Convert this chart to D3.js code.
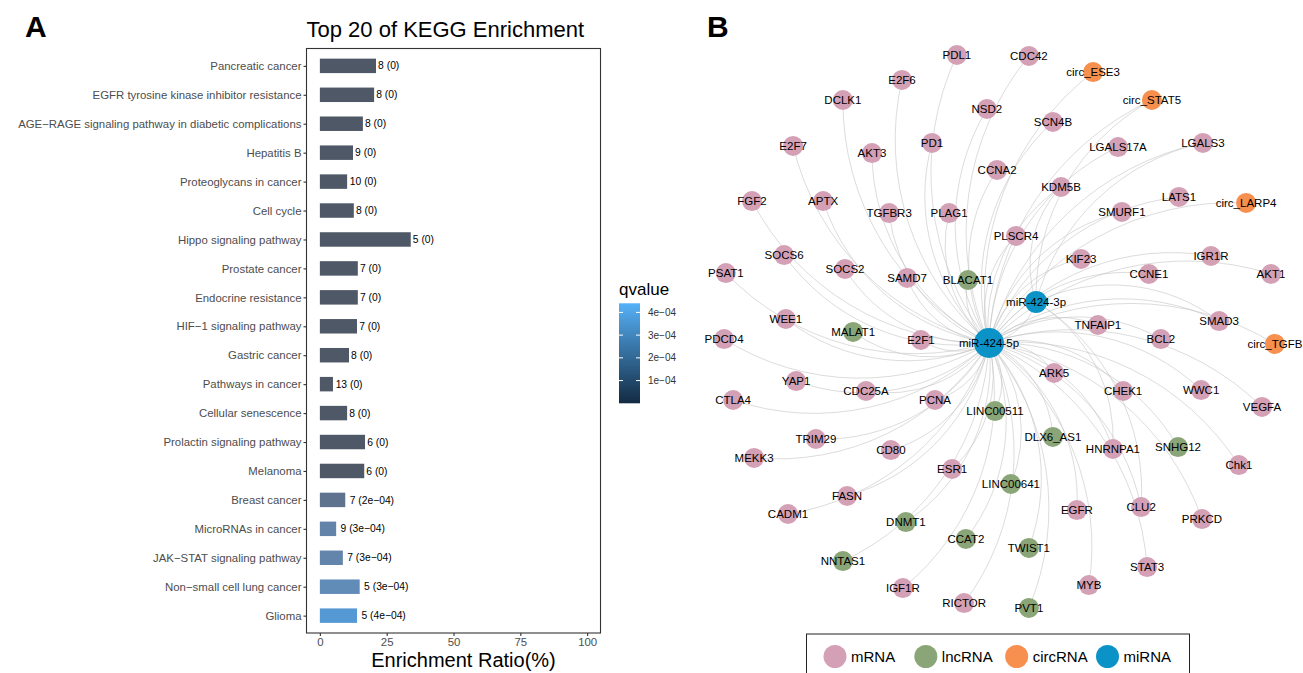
<!DOCTYPE html>
<html lang="en">
<head>
<meta charset="utf-8">
<style>
    body { margin: 0; background: #fff; }
    svg { font-family: "Liberation Sans", Arial, Helvetica, sans-serif; }
</style>
<script src="https://cdn.jsdelivr.net/npm/d3@7/dist/d3.min.js"></script>
</head>
<body>
<svg id="chart" width="1303" height="673"></svg>
<script>
// ---- panel A data ----
var pathways = ["Pancreatic cancer", "EGFR tyrosine kinase inhibitor resistance",
    "AGE\u2212RAGE signaling pathway in diabetic complications", "Hepatitis B",
    "Proteoglycans in cancer", "Cell cycle", "Hippo signaling pathway", "Prostate cancer",
    "Endocrine resistance", "HIF\u22121 signaling pathway", "Gastric cancer", "Pathways in cancer",
    "Cellular senescence", "Prolactin signaling pathway", "Melanoma", "Breast cancer",
    "MicroRNAs in cancer", "JAK\u2212STAT signaling pathway", "Non\u2212small cell lung cancer", "Glioma"];
var ratio = [21.0, 20.3, 16.1, 12.4, 10.2, 12.7, 34.0, 14.2, 14.2, 13.9,
             10.9, 4.9, 10.2, 16.9, 16.6, 9.5, 6.1, 8.6, 14.9, 13.9];
var geneCount = [8, 8, 8, 9, 10, 8, 5, 7, 7, 7, 8, 13, 8, 6, 6, 7, 9, 7, 5, 5];
var qvalue = [0, 0, 0, 0, 0, 0, 0, 0, 0, 0, 0, 0, 0, 0, 0,
              2.2e-4, 2.8e-4, 2.9e-4, 3.3e-4, 4.4e-4];
var xTicks = [0, 25, 50, 75, 100];
var qTicks = [1e-4, 2e-4, 3e-4, 4e-4];

// ---- panel B data (layout coordinates, hub at origin) ----
var nodes = [
    ["PDL1", "mRNA", -0.107, 0.960], ["CDC42", "mRNA", 0.133, 0.957],
    ["circ_ESE3", "circRNA", 0.347, 0.903], ["circ_STAT5", "circRNA", 0.543, 0.810],
    ["E2F6", "mRNA", -0.290, 0.877], ["DCLK1", "mRNA", -0.487, 0.810],
    ["NSD2", "mRNA", -0.007, 0.780], ["SCN4B", "mRNA", 0.213, 0.737],
    ["LGALS17A", "mRNA", 0.430, 0.653], ["LGALS3", "mRNA", 0.713, 0.667],
    ["E2F7", "mRNA", -0.653, 0.657], ["AKT3", "mRNA", -0.390, 0.633],
    ["PD1", "mRNA", -0.190, 0.667], ["CCNA2", "mRNA", 0.027, 0.577],
    ["KDM5B", "mRNA", 0.240, 0.520], ["LATS1", "mRNA", 0.633, 0.487],
    ["circ_LARP4", "circRNA", 0.857, 0.467], ["SMURF1", "mRNA", 0.443, 0.437],
    ["FGF2", "mRNA", -0.790, 0.473], ["APTX", "mRNA", -0.553, 0.473],
    ["TGFBR3", "mRNA", -0.333, 0.433], ["PLAG1", "mRNA", -0.133, 0.433],
    ["PLSCR4", "mRNA", 0.090, 0.357], ["KIF23", "mRNA", 0.307, 0.280],
    ["IGR1R", "mRNA", 0.740, 0.290], ["CCNE1", "mRNA", 0.533, 0.230],
    ["AKT1", "mRNA", 0.940, 0.230], ["SOCS6", "mRNA", -0.683, 0.293],
    ["SOCS2", "mRNA", -0.480, 0.247], ["PSAT1", "mRNA", -0.877, 0.233],
    ["SAMD7", "mRNA", -0.273, 0.217], ["BLACAT1", "lncRNA", -0.070, 0.210],
    ["WEE1", "mRNA", -0.677, 0.080], ["SMAD3", "mRNA", 0.767, 0.073],
    ["MALAT1", "lncRNA", -0.453, 0.037], ["TNFAIP1", "mRNA", 0.363, 0.060],
    ["PDCD4", "mRNA", -0.883, 0.013], ["E2F1", "mRNA", -0.227, 0.010],
    ["BCL2", "mRNA", 0.573, 0.013], ["circ_TGFB", "circRNA", 0.953, -0.003],
    ["ARK5", "mRNA", 0.217, -0.100], ["YAP1", "mRNA", -0.643, -0.127],
    ["CDC25A", "mRNA", -0.410, -0.160], ["CHEK1", "mRNA", 0.447, -0.160],
    ["WWC1", "mRNA", 0.707, -0.157], ["CTLA4", "mRNA", -0.853, -0.190],
    ["PCNA", "mRNA", -0.180, -0.190], ["VEGFA", "mRNA", 0.910, -0.213],
    ["LINC00511", "lncRNA", 0.020, -0.227], ["DLX6_AS1", "lncRNA", 0.213, -0.313],
    ["TRIM29", "mRNA", -0.577, -0.320], ["SNHG12", "lncRNA", 0.630, -0.347],
    ["HNRNPA1", "mRNA", 0.413, -0.353], ["CD80", "mRNA", -0.327, -0.357],
    ["MEKK3", "mRNA", -0.783, -0.383], ["Chk1", "mRNA", 0.833, -0.407],
    ["ESR1", "mRNA", -0.123, -0.420], ["LINC00641", "lncRNA", 0.073, -0.470],
    ["FASN", "mRNA", -0.473, -0.510], ["EGFR", "mRNA", 0.293, -0.557],
    ["CLU2", "mRNA", 0.507, -0.547], ["CADM1", "mRNA", -0.670, -0.570],
    ["PRKCD", "mRNA", 0.710, -0.587], ["DNMT1", "lncRNA", -0.277, -0.597],
    ["CCAT2", "lncRNA", -0.077, -0.653], ["TWIST1", "lncRNA", 0.133, -0.683],
    ["NNTAS1", "lncRNA", -0.487, -0.727], ["STAT3", "mRNA", 0.527, -0.747],
    ["IGF1R", "mRNA", -0.287, -0.817], ["MYB", "mRNA", 0.333, -0.807],
    ["RICTOR", "mRNA", -0.083, -0.867], ["PVT1", "lncRNA", 0.133, -0.883],
    ["miR-424-3p", "miRNA", 0.157, 0.137], ["miR-424-5p", "miRNA", 0.000, 0.000]
];
var targets3p = ["KDM5B", "SMAD3", "HNRNPA1", "CLU2", "LGALS3", "circ_STAT5", "miR-424-5p"];
var typeNames = ["mRNA", "lncRNA", "circRNA", "miRNA"];
var typeColors = ["#d4a0b6", "#8aa577", "#f78f4f", "#0b93c8"];

var svg = d3.select("#chart");

// ================= Panel A =================
var panel = {left: 306.5, right: 600.5, top: 48.5, bottom: 633};
var x = d3.scaleLinear().domain([-5, 105]).range([panel.left, panel.right]);
var y = d3.scalePoint().domain(pathways).range([panel.top, panel.bottom]).padding(0.6);
var barH = y.step() * 0.5;
var qMax = d3.max(qvalue);
var legendColor = d3.scaleLinear().domain([0, qMax]).range(["#132b43", "#56b1f7"]);
var barColor = d3.scaleLinear().domain([0, 2.2e-4, 3e-4, qMax])
    .range(["#4f5866", "#5f738e", "#6488b0", "#5599d4"]);

function fmtQ(q) {
    if (q === 0) return "0";
    var p = q.toExponential(0).split("e");
    var e = Math.abs(+p[1]);
    return p[0] + "e\u2212" + (e < 10 ? "0" + e : e);
}

var gA = svg.append("g");

svg.append("text").attr("x", 25).attr("y", 37)
   .attr("font-size", 30).attr("font-weight", "bold").text("A");
gA.append("text").attr("x", panel.left).attr("y", 37)
  .attr("font-size", 22).text("Top 20 of KEGG Enrichment");

gA.selectAll(".bar")
  .data(pathways)
  .enter().append("rect")
  .attr("class", "bar")
  .attr("x", x(0))
  .attr("y", function(d) { return y(d) - barH / 2; })
  .attr("width", function(d, i) { return x(ratio[i]) - x(0); })
  .attr("height", barH)
  .attr("fill", function(d, i) { return barColor(qvalue[i]); });

gA.selectAll(".blab")
  .data(pathways)
  .enter().append("text")
  .attr("class", "blab")
  .attr("font-size", 10.3)
  .attr("dy", "0.35em")
  .attr("y", function(d) { return y(d); })
  .text(function(d, i) { return geneCount[i] + " (" + fmtQ(qvalue[i]) + ")"; })
  .attr("x", function(d, i) { return x(ratio[i]) + 0.1 * this.getComputedTextLength(); });

// axes
var yAxis = gA.append("g")
  .attr("transform", "translate(" + panel.left + ",0)")
  .call(d3.axisLeft(y).tickSize(3).tickPadding(2));
var xAxis = gA.append("g")
  .attr("transform", "translate(0," + panel.bottom + ")")
  .call(d3.axisBottom(x).tickValues(xTicks).tickSize(3).tickPadding(2));
[yAxis, xAxis].forEach(function(ax) {
    ax.select(".domain").remove();
    ax.selectAll(".tick line").attr("stroke", "#333").attr("stroke-width", 1.1);
    ax.selectAll(".tick text").attr("fill", "#4d4d4d").attr("font-size", 11.4)
      .attr("font-family", "Liberation Sans, Arial, sans-serif");
});

gA.append("rect")
  .attr("x", panel.left).attr("y", panel.top)
  .attr("width", panel.right - panel.left).attr("height", panel.bottom - panel.top)
  .attr("fill", "none").attr("stroke", "#333").attr("stroke-width", 1.1);

gA.append("text")
  .attr("x", 463.5).attr("y", 667)
  .attr("text-anchor", "middle").attr("font-size", 20)
  .text("Enrichment Ratio(%)");

// colour bar legend
var lg = {x: 619, w: 21, top: 303.3, bottom: 403.3};
var qy = d3.scaleLinear().domain([0, qMax]).range([lg.bottom, lg.top]);
gA.append("text").attr("x", 619).attr("y", 295).attr("font-size", 17).text("qvalue");
var defs = svg.append("defs");
var grad = defs.append("linearGradient").attr("id", "qgrad")
    .attr("x1", 0).attr("x2", 0).attr("y1", 1).attr("y2", 0);
d3.range(0, 1.01, 0.1).forEach(function(t) {
    grad.append("stop").attr("offset", t).attr("stop-color", legendColor(t * qMax));
});
gA.append("rect").attr("x", lg.x).attr("y", lg.top).attr("width", lg.w)
  .attr("height", lg.bottom - lg.top).attr("fill", "url(#qgrad)");
qTicks.forEach(function(q) {
    var yy = qy(q);
    gA.append("line").attr("x1", lg.x).attr("x2", lg.x + 4).attr("y1", yy).attr("y2", yy)
      .attr("stroke", "#fff").attr("stroke-width", 1);
    gA.append("line").attr("x1", lg.x + lg.w - 4).attr("x2", lg.x + lg.w).attr("y1", yy).attr("y2", yy)
      .attr("stroke", "#fff").attr("stroke-width", 1);
    gA.append("text").attr("x", 648).attr("y", yy).attr("dy", "0.35em")
      .attr("font-size", 10).attr("fill", "#333").text(fmtQ(q));
});

// ================= Panel B =================
svg.append("text").attr("x", 707).attr("y", 37)
   .attr("font-size", 30).attr("font-weight", "bold").text("B");

var nx = d3.scaleLinear().domain([-1, 1]).range([689, 1289]);
var ny = d3.scaleLinear().domain([-1, 1]).range([643, 43]);
var color = d3.scaleOrdinal().domain(typeNames).range(typeColors);
var byName = {};
nodes.forEach(function(n) { byName[n[0]] = n; });

var edges = [];
nodes.forEach(function(n) {
    if (n[1] === "miRNA") return;
    edges.push(["miR-424-5p", n[0]]);
});
targets3p.forEach(function(t) { edges.push(["miR-424-3p", t]); });

function arcPath(e) {
    var s = byName[e[0]], t = byName[e[1]];
    var x1 = nx(s[2]), y1 = ny(s[3]), x2 = nx(t[2]), y2 = ny(t[3]);
    var L = Math.hypot(x2 - x1, y2 - y1);
    var h = 0.14 * L;
    var r = (L * L / 4 + h * h) / (2 * h);
    return "M" + x1 + "," + y1 + "A" + r + "," + r + " 0 0 1 " + x2 + "," + y2;
}

var gB = svg.append("g");
gB.selectAll(".edge")
  .data(edges)
  .enter().append("path")
  .attr("class", "edge")
  .attr("d", arcPath)
  .attr("fill", "none")
  .attr("stroke", "#c4c4c4")
  .attr("stroke-width", 0.6);

gB.selectAll(".node")
  .data(nodes)
  .enter().append("circle")
  .attr("class", "node")
  .attr("cx", function(d) { return nx(d[2]); })
  .attr("cy", function(d) { return ny(d[3]); })
  .attr("r", function(d) { return d[0] === "miR-424-5p" ? 15 : (d[1] === "miRNA" ? 11 : 10); })
  .attr("fill", function(d) { return color(d[1]); });

gB.selectAll(".nlab")
  .data(nodes)
  .enter().append("text")
  .attr("class", "nlab")
  .attr("x", function(d) { return nx(d[2]); })
  .attr("y", function(d) { return ny(d[3]); })
  .attr("dy", "0.35em")
  .attr("text-anchor", "middle")
  .attr("font-size", 11.5)
  .text(function(d) { return d[0]; });

// legend
var lgB = gB.append("g");
lgB.append("rect").attr("x", 806.5).attr("y", 634).attr("width", 383).attr("height", 50)
   .attr("fill", "none").attr("stroke", "#222").attr("stroke-width", 1);
var legX = d3.scalePoint().domain(typeNames).range([835, 1107.5]);
typeNames.forEach(function(t) {
    lgB.append("circle").attr("cx", legX(t)).attr("cy", 656.5).attr("r", 11.5).attr("fill", color(t));
    lgB.append("text").attr("x", legX(t) + 16).attr("y", 656.5).attr("dy", "0.35em")
       .attr("font-size", 15).text(t);
});
</script>
</body>
</html>
